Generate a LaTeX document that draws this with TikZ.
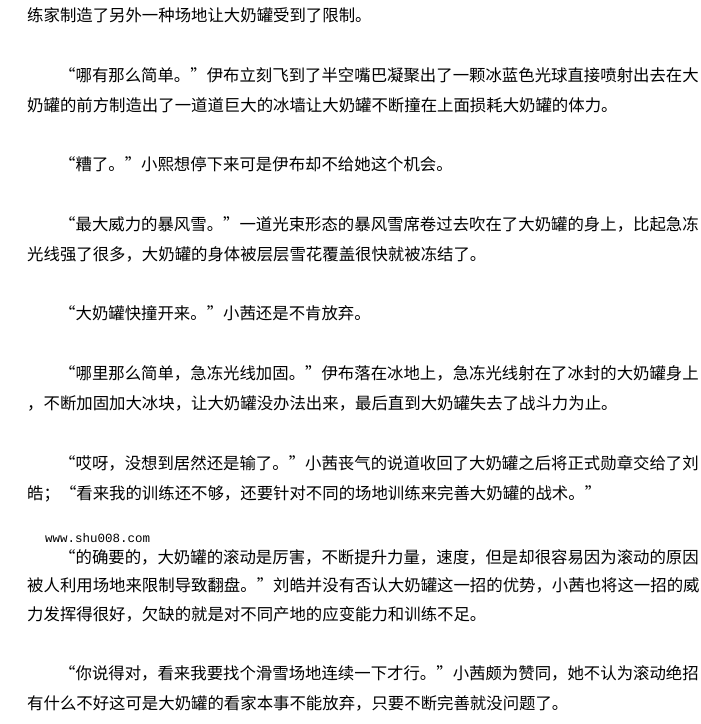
\documentclass[tikz,border=0pt]{standalone}
\usepackage{fontspec}
\newfontfamily\cjk{Noto Sans CJK SC}
\newfontfamily\urlfont{Liberation Mono}

\begin{document}
\begin{tikzpicture}[x=1pt,y=-1pt,
  para/.style={anchor=base west,inner sep=0pt,font=\cjk\fontsize{16.4}{16.4}\selectfont},
  site/.style={anchor=base west,inner sep=0pt,font=\urlfont\fontsize{12.5}{12.5}\selectfont}]
  \fill[white] (0,0) rectangle (701,724);
  \useasboundingbox (0,0) rectangle (701,724);
  \foreach \i/\x/\y/\t in {
    1/27/15/练家制造了另外一种场地让大奶罐受到了限制。,
    2/59/75/“哪有那么简单。”伊布立刻飞到了半空嘴巴凝聚出了一颗冰蓝色光球直接喷射出去在大,
    3/27/105/奶罐的前方制造出了一道道巨大的冰墙让大奶罐不断撞在上面损耗大奶罐的体力。,
    4/59/164/“糟了。”小熙想停下来可是伊布却不给她这个机会。,
    5/59/224/“最大威力的暴风雪。”一道光束形态的暴风雪席卷过去吹在了大奶罐的身上，比起急冻,
    6/27/254/光线强了很多，大奶罐的身体被层层雪花覆盖很快就被冻结了。,
    7/59/313/“大奶罐快撞开来。”小茜还是不肯放弃。,
    8/59/373/“哪里那么简单，急冻光线加固。”伊布落在冰地上，急冻光线射在了冰封的大奶罐身上,
    9/27/403/，不断加固加大冰块，让大奶罐没办法出来，最后直到大奶罐失去了战斗力为止。,
    10/59/463/“哎呀，没想到居然还是输了。”小茜丧气的说道收回了大奶罐之后将正式勋章交给了刘,
    11/27/493/皓；“看来我的训练还不够，还要针对不同的场地训练来完善大奶罐的战术。”,
    12/59/557/“的确要的，大奶罐的滚动是厉害，不断提升力量，速度，但是却很容易因为滚动的原因,
    13/27/585/被人利用场地来限制导致翻盘。”刘皓并没有否认大奶罐这一招的优势，小茜也将这一招的威,
    14/27/614/力发挥得很好，欠缺的就是对不同产地的应变能力和训练不足。,
    15/59/673/“你说得对，看来我要找个滑雪场地连续一下才行。”小茜颇为赞同，她不认为滚动绝招,
    16/27/703/有什么不好这可是大奶罐的看家本事不能放弃，只要不断完善就没问题了。}
    \node[para] (l\i) at (\x,\y+6) {\t};
  \node[site] (url) at (45,542) {www.shu008.com};
\end{tikzpicture}
\end{document}
